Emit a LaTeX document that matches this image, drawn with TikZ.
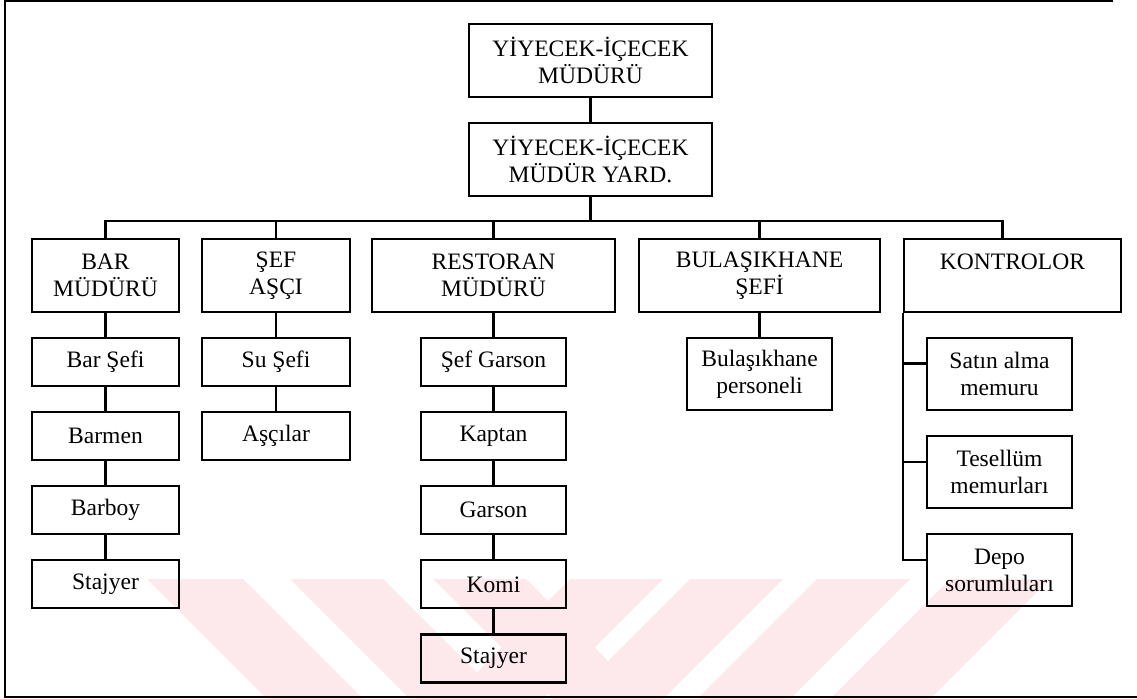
\documentclass[tikz,border=0pt]{standalone}
\usepackage{fontspec}
\setmainfont{Liberation Serif}
\usetikzlibrary{positioning}

\definecolor{wmpink}{HTML}{FDE8EC}

\begin{document}
\begin{tikzpicture}[
    x=0.02cm, y=-0.02cm, % one unit = one pixel of the scan
    line width=1.2pt, % line style
    every node/.style={font=\fontsize{13.4}{15.2}\selectfont, align=center, inner sep=0pt},
    chief/.style={draw, minimum width=4.86cm, minimum height=1.46cm},
    head/.style={draw, minimum height=1.46cm},
    staff/.style={draw, minimum width=2.9cm, minimum height=0.96cm},
    staffii/.style={draw, minimum width=2.9cm, minimum height=1.44cm},
    node distance=0.48cm,
]
\useasboundingbox (0,0) rectangle (1137,699);

% watermark stripes
\begin{scope}
    \clip (0,579) rectangle (1137,699);
    \foreach \a/\b in {147/243, 290/383, 433/526}
        \fill[wmpink] (\a,579) -- (\b,579) -- (\b+120,699) -- (\a+120,699) -- cycle;
    \foreach \a/\b in {570/663, 690/783, 817/910, 950/1050}
        \fill[wmpink] (\a,579) -- (\b,579) -- (\b-120,699) -- (\a-120,699) -- cycle;
\end{scope}

% frame
\draw[line width=1.3pt] (1113,1) -- (5,1) -- (5,697) -- (1137,697);

\node[chief] (gm) at (590.5,60.5) {YİYECEK-İÇECEK\\MÜDÜRÜ};
\node[chief, below=of gm] (agm) {YİYECEK-İÇECEK\\MÜDÜR YARD.};

\node[head, minimum width=2.94cm] (bar) at (105.5,275.5) {BAR\\MÜDÜRÜ};
\node[head, minimum width=2.96cm] (chef) at (276,275.5) {ŞEF\\AŞÇI};
\node[head, minimum width=4.86cm] (rest) at (493.5,275.5) {RESTORAN\\MÜDÜRÜ};
\node[head, minimum width=4.82cm] (wash) at (759.5,275.5) {BULAŞIKHANE\\ŞEFİ};
\node[head, minimum width=4.34cm] (ctrl) at (1012.5,275.5) {KONTROLOR\\~};

% bar
\node[staff, minimum width=2.94cm, below=of bar] (bar1) {Bar Şefi};
\node[staff, minimum width=2.94cm, below=of bar1] (bar2) {Barmen};
\node[staff, minimum width=2.94cm, below=of bar2] (bar3) {Barboy};
\node[staff, minimum width=2.94cm, below=of bar3] (bar4) {Stajyer};

% kitchen
\node[staff, minimum width=2.96cm, below=of chef] (chef1) {Su Şefi};
\node[staff, minimum width=2.96cm, below=of chef1] (chef2) {Aşçılar};

% restaurant
\node[staff, below=of rest] (rest1) {Şef Garson};
\node[staff, below=of rest1] (rest2) {Kaptan};
\node[staff, below=of rest2] (rest3) {Garson};
\node[staff, below=of rest3] (rest4) {Komi};
\node[staff, below=of rest4] (rest5) {Stajyer};

\node[staffii, below=of wash] (wash1) {Bulaşıkhane\\personeli};

% control
\node[staffii, below right=0.48cm and 0.46cm of ctrl.south west] (buy) {Satın alma\\memuru};
\node[staffii, below=of buy] (recv) {Tesellüm\\memurları};
\node[staffii, below=of recv] (store) {Depo\\sorumluları};

% connectors
\draw (gm) -- (agm);
\draw (agm.south) -- ++(0,-0.48cm) coordinate (bus);
\foreach \n in {bar,chef,rest,wash}
    \draw (bus) -| (\n.north);
\draw (bus) -| ([xshift=-0.2cm]ctrl.north);
\foreach \a/\b in {bar/bar1, bar1/bar2, bar2/bar3, bar3/bar4,
                   chef/chef1, chef1/chef2,
                   rest/rest1, rest1/rest2, rest2/rest3, rest3/rest4, rest4/rest5,
                   wash/wash1}
    \draw (\a.south) -- (\b.north);
\foreach \n in {buy,recv,store}
    \draw (ctrl.south west) |- ([yshift=6pt]\n.west);
\end{tikzpicture}
\end{document}
